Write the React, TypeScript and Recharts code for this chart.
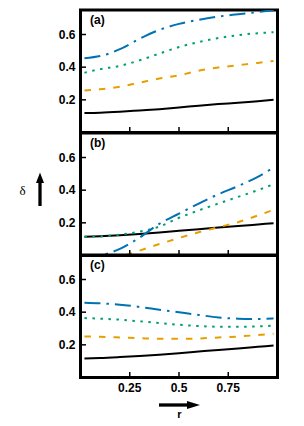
import { LineChart, Line, XAxis, YAxis, ReferenceArea } from 'recharts';

const rValues = [0.02, 0.1, 0.2, 0.3, 0.4, 0.5, 0.6, 0.7, 0.8, 0.9, 0.98];
const xTicks = [0.25, 0.5, 0.75];
const yTicks = [0.2, 0.4, 0.6];
const panelNames = ['(a)', '(b)', '(c)'];

// panel (a)
const aSolid = [0.119, 0.121, 0.127, 0.135, 0.143, 0.153, 0.164, 0.174, 0.182, 0.192, 0.2];
const aDashed = [0.257, 0.265, 0.28, 0.305, 0.33, 0.35, 0.378, 0.398, 0.412, 0.426, 0.438];
const aDotted = [0.366, 0.388, 0.408, 0.442, 0.483, 0.523, 0.554, 0.578, 0.596, 0.608, 0.614];
const aDashDot = [0.455, 0.468, 0.51, 0.574, 0.628, 0.665, 0.69, 0.71, 0.724, 0.737, 0.75];

// panel (b)
const bSolid = [0.115, 0.118, 0.124, 0.132, 0.141, 0.151, 0.161, 0.171, 0.18, 0.19, 0.198];
const bDashed = [-0.08, -0.05, -0.01, 0.03, 0.07, 0.107, 0.142, 0.173, 0.204, 0.245, 0.28];
const bDotted = [0.115, 0.117, 0.128, 0.146, 0.177, 0.231, 0.276, 0.318, 0.359, 0.4, 0.437];
const bDashDot = [-0.03, -0.002, 0.04, 0.11, 0.194, 0.256, 0.318, 0.375, 0.425, 0.482, 0.538];

// panel (c)
const cSolid = [0.116, 0.119, 0.125, 0.132, 0.14, 0.149, 0.159, 0.169, 0.178, 0.188, 0.196];
const cDashed = [0.251, 0.249, 0.245, 0.241, 0.237, 0.237, 0.239, 0.245, 0.251, 0.26, 0.268];
const cDotted = [0.364, 0.36, 0.354, 0.344, 0.333, 0.323, 0.315, 0.311, 0.311, 0.313, 0.317];
const cDashDot = [0.458, 0.454, 0.446, 0.432, 0.415, 0.399, 0.383, 0.368, 0.36, 0.358, 0.362];

const panels = [
  [aSolid, aDashed, aDotted, aDashDot],
  [bSolid, bDashed, bDotted, bDashDot],
  [cSolid, cDashed, cDotted, cDashDot],
];

const styles = [
  { color: '#000000', dash: undefined },
  { color: '#E69F00', dash: '6.5 8' },
  { color: '#009E73', dash: '2.5 5.5' },
  { color: '#0072B2', dash: '16 6 2.5 6' },
];

const FONT = '"Liberation Sans", Arial, sans-serif';
const PLOT_LEFT = 80.5;
const PLOT_W = 197;
const PLOT_H = 122.5;
const panelTops = [10, 132.5, 255];

function YTick(props: any) {
  const { x, y, payload } = props;
  return (
    <g>
      <line x1={x + 1} x2={x + 5.5} y1={y} y2={y} stroke="#000" strokeWidth={1.5} />
      <text x={x - 5} y={y} dy={4} textAnchor="end" fontFamily={FONT} fontWeight="bold" fontSize={12} fill="#000">
        {String(payload.value)}
      </text>
    </g>
  );
}

function makeXTick(showLabel: boolean) {
  return function XTick(props: any) {
    const { x, y, payload } = props;
    return (
      <g>
        <line x1={x} x2={x} y1={y} y2={y - 5.5} stroke="#000" strokeWidth={1.5} />
        {showLabel && (
          <text x={x} y={y + 14} textAnchor="middle" fontFamily={FONT} fontWeight="bold" fontSize={12} fill="#000">
            {String(payload.value)}
          </text>
        )}
      </g>
    );
  };
}

function Panel({ index }: { index: number }) {
  const series = panels[index];
  const data = rValues.map((r, i) => ({
    r,
    s0: series[0][i],
    s1: series[1][i],
    s2: series[2][i],
    s3: series[3][i],
  }));
  const last = index === 2;
  const bottom = last ? 24 : 3;
  return (
    <div style={{ position: 'absolute', left: 0, top: panelTops[index] - 3 }}>
      <LineChart
        width={PLOT_LEFT + PLOT_W + 26.5}
        height={PLOT_H + 3 + bottom}
        data={data}
        margin={{ top: 3, right: 26.5, bottom: bottom - 1, left: PLOT_LEFT - 1 }}
      >
        <XAxis
          dataKey="r"
          type="number"
          domain={[0, 1]}
          ticks={xTicks}
          height={1}
          tickSize={0}
          tickMargin={0}
          axisLine={false}
          tickLine={false}
          tick={makeXTick(last)}
          interval={0}
          allowDataOverflow
        />
        <YAxis
          type="number"
          domain={[0, 0.75]}
          ticks={yTicks}
          width={1}
          tickSize={0}
          tickMargin={0}
          axisLine={false}
          tickLine={false}
          tick={YTick}
          interval={0}
          allowDataOverflow
        />
        {styles.map((st, k) => (
          <Line
            key={k}
            type="monotone"
            dataKey={`s${k}`}
            stroke={st.color}
            strokeWidth={2}
            strokeDasharray={st.dash}
            dot={false}
            isAnimationActive={false}
          />
        ))}
        <ReferenceArea x1={0} x2={1} y1={0} y2={0.75} fill="none" stroke="#000" strokeWidth={3} ifOverflow="visible" />
      </LineChart>
      <div
        style={{
          position: 'absolute',
          left: 90,
          top: 7,
          fontFamily: FONT,
          fontWeight: 'bold',
          fontSize: 12,
          lineHeight: '12px',
        }}
      >
        {panelNames[index]}
      </div>
    </div>
  );
}

export default function App() {
  return (
    <div style={{ position: 'absolute', left: 0, top: 0, width: 304, height: 426, background: '#fff' }}>
      <Panel index={0} />
      <Panel index={1} />
      <Panel index={2} />
      <svg width={304} height={426} style={{ position: 'absolute', left: 0, top: 0, pointerEvents: 'none' }}>
        <text x={22.5} y={195} textAnchor="middle" fontFamily='"Liberation Serif", serif' fontSize={13} fill="#000">
          δ
        </text>
        <line x1={40} x2={40} y1={206} y2={181} stroke="#000" strokeWidth={3.3} />
        <polygon points="40,172.5 36,183 44,183" fill="#000" />
        <line x1={159} x2={189} y1={405} y2={405} stroke="#000" strokeWidth={3.3} />
        <polygon points="200,405 187,401 187,409" fill="#000" />
        <text x={179.5} y={418} textAnchor="middle" fontFamily={FONT} fontWeight="bold" fontSize={11} fill="#000">
          r
        </text>
      </svg>
    </div>
  );
}
